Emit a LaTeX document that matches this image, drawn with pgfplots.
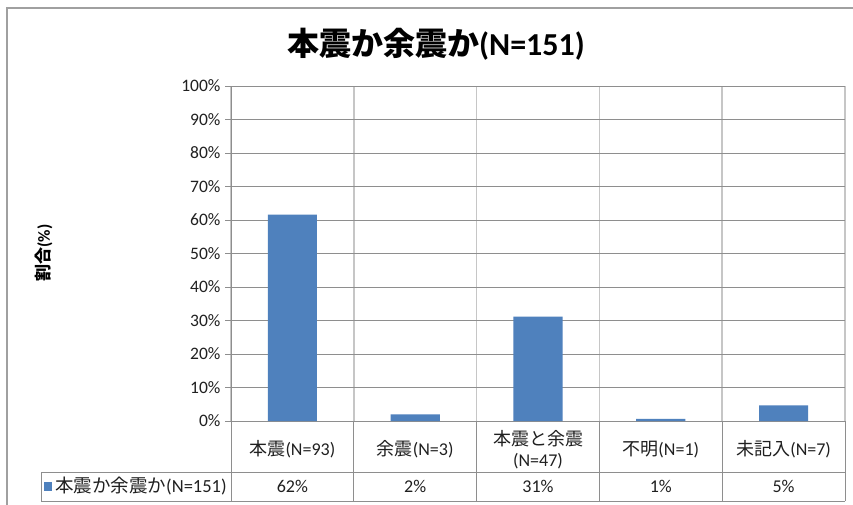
\documentclass[border=0pt]{standalone}
\usepackage{fontspec}
\setmainfont{Carlito}
\newfontfamily\jp{Noto Sans CJK JP}
\usepackage{pgfplots}
\pgfplotsset{compat=1.18}
\definecolor{barblue}{HTML}{4F81BD}
\definecolor{gridgray}{HTML}{8E8E8E}
\definecolor{vgray}{HTML}{C6C6C6}
\definecolor{tgray}{HTML}{8E8E8E}
\definecolor{framegray}{HTML}{A0A0A0}
\definecolor{txt}{HTML}{202020}
\begin{document}
\begin{tikzpicture}[x=1pt,y=1pt]
\useasboundingbox (0,0) rectangle (853,-504);
\fill[white] (0,0) rectangle (853,-504);
\draw[framegray, line width=1.2pt] (7,-540) -- (7,-8) -- (900,-8);
\node[font=\fontsize{32}{36}\selectfont\bfseries, text=black] at (436,-44) {{\jp 本震か余震か}(N=151)};
\node[font=\fontsize{17}{19}\selectfont\bfseries, rotate=90, text=black] at (44,-253) {{\jp 割合}(\%)};
\begin{axis}[
  at={(231pt,-421pt)}, anchor=south west,
  scale only axis, width=614pt, height=335pt,
  xmin=-0.5, xmax=4.5, ymin=0, ymax=100,
  ybar, bar width=0.4,
  axis x line*=bottom, axis y line*=left,
  axis line style={draw=gridgray, line width=0.9pt},
  ytick={0,10,...,100},
  yticklabel={\pgfmathprintnumber{\tick}\%},
  /pgf/number format/assume math mode=true,
  yticklabel style={font=\fontsize{17.5}{19}\selectfont, text=txt, xshift=-1pt},
  tick align=outside, major tick length=6pt,
  ytick style={draw=gridgray, line width=0.9pt},
  ymajorgrids, major grid style={draw=gridgray, line width=0.9pt},
  xtick={0,1,2,3,4},
  xticklabels={{\jp 本震}(N=93), {\jp 余震}(N=3), {{\jp 本震と余震}\\(N=47)}, {\jp 不明}(N=1), {\jp 未記入}(N=7)},
  xticklabel style={font=\fontsize{18}{21}\selectfont, text=txt, align=center, anchor=center, yshift=-22.5pt},
  xtick style={draw=none},
  minor xtick={-0.5,0.5,1.5,2.5,3.5,4.5},
  minor tick length=0pt,
  xminorgrids, minor x grid style={draw=vgray, line width=1.6pt},
  clip=false,
]
\addplot[fill=barblue, draw=none] coordinates {(0,61.59) (1,1.99) (2,31.13) (3,0.66) (4,4.64)};
\end{axis}
% data table
\begin{scope}[tgray, line width=0.9pt]
\foreach \xx in {231,353.8,476.6,599.4,722.2,845} {\draw (\xx,-421) -- (\xx,-501);}
\draw (41,-472) -- (845,-472);
\draw (41,-501) -- (845,-501);
\draw (41,-472) -- (41,-501);
\end{scope}
\fill[barblue] (44,-482) rectangle (52,-491);
\node[anchor=west, font=\fontsize{18.5}{20}\selectfont, text=txt, inner sep=0pt] at (55,-486.5) {{\jp 本震か余震か}(N=151)};
\foreach \v [count=\i from 0] in {62,2,31,1,5} {
  \node[font=\fontsize{18}{20}\selectfont, text=txt] at (231+122.8*\i+61.4,-486.5) {\v\%};
}
\end{tikzpicture}
\end{document}
